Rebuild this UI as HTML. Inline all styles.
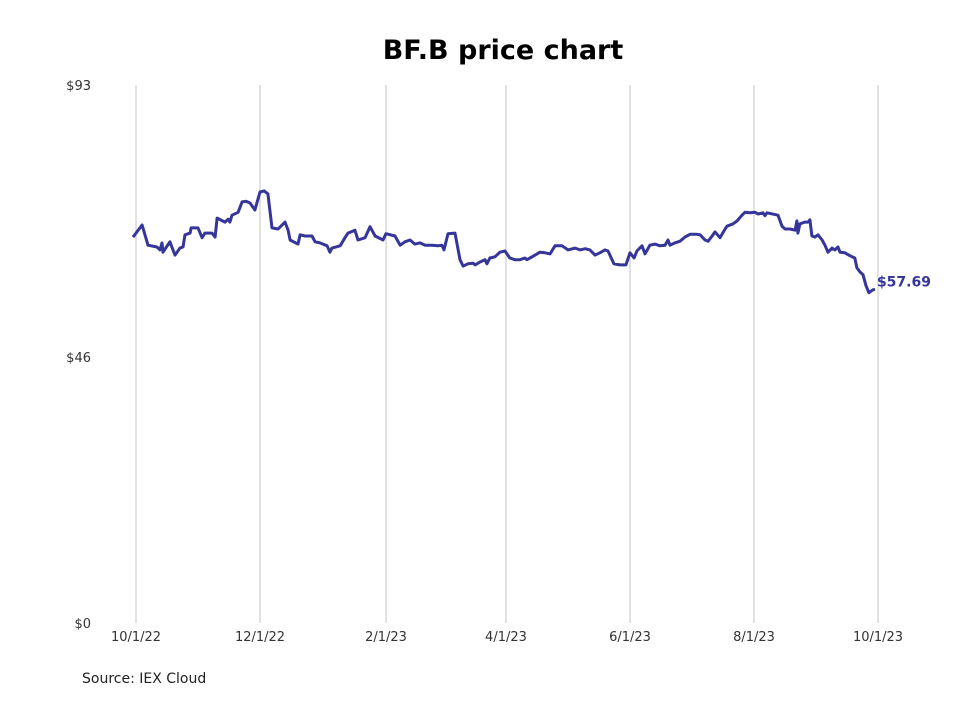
<!DOCTYPE html>
<html><head><meta charset="utf-8"><style>
body{margin:0;background:#fff;font-family:"Liberation Sans",sans-serif;}
</style></head><body>
<svg width="980" height="699" xmlns="http://www.w3.org/2000/svg">
<text x="503" y="59" text-anchor="middle" font-family="DejaVu Sans, sans-serif" font-weight="bold" font-size="27" fill="#000">BF.B price chart</text>
<g id="grid"></g>
<g id="yax"></g>
<g id="xax"></g>
<g id="series"></g>
<text x="82" y="683" font-family="DejaVu Sans, sans-serif" font-size="14" fill="#222">Source: IEX Cloud</text>
</svg>
<script>
const days=[-1.5,3,5.9,10.3,11.8,12.8,13.3,16.7,19.2,21.6,23.1,24.1,26.6,27.1,30.5,32.5,33.9,37.4,38.9,39.9,43.8,45.3,46.2,47.2,50.2,52.2,54.1,56.1,58.5,61,63,64.9,66.9,69.9,73.3,74.8,75.8,79.7,80.7,83.1,86.6,88.1,90.5,94,95.4,96.4,100.4,102.8,104.3,107.7,109.2,112.7,115.1,117.6,121.5,123,127.4,129.9,132.3,134.8,137.2,139.7,142.2,145.6,148.6,150.5,151.5,153.5,156.9,159.4,160.9,163.3,165.8,166.8,169.2,171.7,172.6,174.1,176.6,179,181.5,183.9,186.4,188.9,191.3,192.3,193.8,196.3,198.7,201.2,203.7,206.1,209.6,212.5,216,218.4,220.9,223.3,225.8,228.2,230.7,232.2,235.1,238.1,241,243,245,246.4,248.9,250.4,252.8,255.3,257.7,260.2,261.7,262.7,265.1,267.6,270,272.5,275.9,277.5,279.9,281.4,283.4,284.8,287.3,289.8,290.7,293.7,295.7,298.1,299.6,302.1,304.5,306,308.4,309.4,310.4,315.8,317.8,319.3,321.7,324.2,325.1,325.6,326.6,329.1,330.6,331.5,332.5,334,335.5,337.5,338.9,340.4,342.4,343.8,345.3,346.3,348.7,351.2,353.6,354.6,356.1,357.6,359.1,360.5,362.5,363.5];
const prices=[66.7,68.8,65.3,65.0,64.5,65.7,64.1,65.9,63.6,64.8,65.0,67.1,67.4,68.3,68.3,66.6,67.4,67.4,66.7,70.0,69.3,69.8,69.3,70.5,71.0,72.8,72.9,72.6,71.4,74.5,74.7,74.2,68.3,68.1,69.3,67.9,66.2,65.5,67.1,66.9,66.9,65.9,65.7,65.2,64.1,64.8,65.2,66.6,67.4,67.9,66.2,66.6,68.5,66.9,66.2,67.3,66.9,65.3,65.9,66.2,65.5,65.7,65.3,65.3,65.2,65.3,64.5,67.3,67.4,62.8,61.7,62.1,62.2,61.9,62.4,62.8,62.1,63.1,63.3,64.1,64.3,63.1,62.8,62.8,63.1,62.8,63.1,63.6,64.1,64.0,63.8,65.2,65.2,64.5,64.8,64.5,64.7,64.5,63.6,64.0,64.5,64.3,62.1,61.9,61.9,64.0,63.1,64.3,65.2,63.8,65.3,65.5,65.2,65.3,66.2,65.3,65.7,66.0,66.7,67.2,67.2,67.1,66.2,66.0,66.9,67.6,66.6,68.1,68.6,69.0,69.5,70.5,71.0,70.9,71.0,70.7,70.9,70.4,70.9,70.5,68.6,68.1,68.1,67.9,69.5,67.4,69.0,69.3,69.3,69.7,66.9,66.7,67.1,66.2,65.3,64.1,64.8,64.5,65.0,64.1,64.0,63.5,63.1,61.4,60.7,60.2,58.3,57.1,57.6,57.69];
const xTickDays=[0,61,123,182,243,304,365];
const xTickLabels=["10/1/22","12/1/22","2/1/23","4/1/23","6/1/23","8/1/23","10/1/23"];
const yTicks=[0,46,93];
const yTickLabels=["$0","$46","$93"];
const lastLabel="$57.69";
const NS="http://www.w3.org/2000/svg";
const X=d=>136+d*742/365;
const Y=p=>623-p*(538/93);
function mk(t,a,parent,txt){const e=document.createElementNS(NS,t);for(const k in a)e.setAttribute(k,a[k]);if(txt!==undefined)e.textContent=txt;parent.appendChild(e);return e;}
const grid=document.getElementById('grid'),xax=document.getElementById('xax'),yax=document.getElementById('yax'),ser=document.getElementById('series');
xTickDays.forEach((d,i)=>{
  const l=mk('line',{x1:X(d),x2:X(d),y1:85,y2:623,stroke:'#c4c4c4','stroke-width':1},grid);
  
  
  const t=mk('text',{x:X(d),y:641,'text-anchor':'middle','font-family':'DejaVu Sans, sans-serif','font-size':13,fill:'#333'},xax,xTickLabels[i]);
  
  
});
yTicks.forEach((v,i)=>{
  const t=mk('text',{x:91,y:Y(v)+5,'text-anchor':'end','font-family':'DejaVu Sans, sans-serif','font-size':13,fill:'#333'},yax,yTickLabels[i]);
  
  
});
const pts=days.map((d,i)=>X(d).toFixed(1)+','+Y(prices[i]).toFixed(1)).join(' ');
const pl=mk('polyline',{points:pts,fill:'none',stroke:'#35359a','stroke-width':3,'stroke-linejoin':'round'},ser);


const n=days.length-1;
const lt=mk('text',{x:X(days[n])+2,y:Y(prices[n])-3,'font-family':'DejaVu Sans, sans-serif','font-size':14,'font-weight':'bold',fill:'#35359a'},ser,lastLabel);


</script>
</body></html>
